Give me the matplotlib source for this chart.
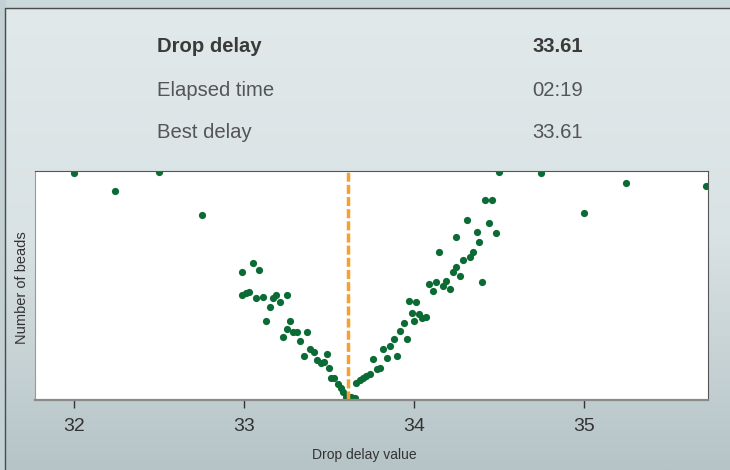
import numpy as np
import matplotlib.pyplot as plt
from matplotlib.colors import LinearSegmentedColormap
from matplotlib.patches import Rectangle

plt.rcParams['font.family'] = ['Liberation Sans', 'DejaVu Sans']

# drop delay scan (coarse 0.25 steps outside, fine steps near the minimum)
delay = [32.00, 32.24, 32.50, 32.75,
         32.99, 33.05, 33.09, 32.99, 33.01, 33.03, 33.07, 33.11, 33.15, 33.17,
         33.19, 33.21, 33.25, 33.13, 33.27, 33.25, 33.29, 33.31, 33.37, 33.23,
         33.33, 33.39, 33.41, 33.49, 33.35, 33.43, 33.45, 33.47, 33.50, 33.51,
         33.53, 33.55, 33.57, 33.58, 33.60, 33.63, 33.65,
         33.66, 33.68, 33.70, 33.72, 33.74, 33.76, 33.78, 33.80, 33.82, 33.84,
         33.86, 33.88, 33.90, 33.92, 33.94, 33.96, 33.97, 34.01, 33.99, 34.00,
         34.03, 34.05, 34.07, 34.09, 34.11, 34.13, 34.15, 34.17, 34.19, 34.21,
         34.23, 34.25, 34.25, 34.27, 34.29, 34.31, 34.33, 34.35, 34.37, 34.38,
         34.40, 34.42, 34.46, 34.44, 34.48, 34.50,
         34.75, 35.00, 35.25, 35.72]
beads = [227, 209, 228, 185,
         128, 137, 130, 105, 107, 108, 102, 103, 93, 102,
         105, 98, 105, 79, 79, 71, 68, 68, 68, 63,
         59, 51, 48, 46, 44, 40, 37, 38, 32, 22,
         22, 16, 12, 8, 3, 3, 2,
         17, 20, 22, 24, 26, 41, 31, 32, 51, 42,
         54, 61, 44, 69, 77, 61, 99, 98, 87, 79,
         86, 82, 83, 116, 109, 118, 148, 114, 119, 111,
         128, 133, 163, 124, 140, 180, 143, 148, 168, 158,
         118, 200, 200, 177, 167, 228,
         227, 187, 217, 214]

best_delay = 33.61
info_labels = ['Drop delay', 'Elapsed time', 'Best delay']
info_values = ['33.61', '02:19', '33.61']
x_ticks = [32, 33, 34, 35]

W, H = 730, 470
fig = plt.figure(figsize=(W / 100, H / 100), dpi=100)

# background gradient
bg = fig.add_axes([0, 0, 1, 1], zorder=-10)
cmap = LinearSegmentedColormap.from_list('bg', ['#e1e9eb', '#d9e2e4', '#b6c4c7'])
bg.imshow(np.linspace(0, 1, 256).reshape(-1, 1), aspect='auto', cmap=cmap,
          extent=[0, 1, 0, 1], origin='upper')
bg.add_patch(Rectangle((0, 1 - 7.5 / H), 1, 7.5 / H, color='#ccd9dc'))
bg.add_patch(Rectangle((0, 0), 4.5 / W, 1, color='#c3d1d5'))
bg.plot([4.5 / W, 4.5 / W, 1], [0, 1 - 7.5 / H, 1 - 7.5 / H], color='#4a4a4a', lw=1)
bg.set_xlim(0, 1)
bg.set_ylim(0, 1)
bg.axis('off')

# header table
rows_y = [47, 91, 133]
for i, (lab, val) in enumerate(zip(info_labels, info_values)):
    weight = 'bold' if i == 0 else 'normal'
    color = '#3a3a3a' if i == 0 else '#555555'
    fig.text(157 / W, 1 - rows_y[i] / H, lab, ha='left', va='center',
             fontsize=14.6, fontweight=weight, color=color)
    fig.text(583 / W, 1 - rows_y[i] / H, val, ha='right', va='center',
             fontsize=14.6, fontweight=weight, color=color)

# scatter plot
ax = fig.add_axes([35 / W, 1 - 400 / H, 673 / W, 229.3 / H])
ax.set_facecolor('white')
ax.plot(delay, beads, 'o', color='#0b6b34', ms=5.2, mew=0)
ax.axvline(best_delay, color='#f7a030', lw=2.5, ls=(0, (2.6, 0.9)))
ax.set_xlim(31.77, 35.73)
ax.set_ylim(0, 229.3)
ax.set_yticks([])
ax.set_xticks(x_ticks)
ax.tick_params(axis='x', direction='out', length=6, width=1, color='#333333',
               labelsize=14, labelcolor='#333333', pad=7)
for side in ['top', 'right']:
    ax.spines[side].set_color('#555555')
ax.spines['left'].set_color('#999999')
ax.spines['bottom'].set_color('#8a8a8a')
ax.spines['bottom'].set_linewidth(1.6)

fig.text(364 / W, 1 - 455 / H, 'Drop delay value', ha='center', va='center',
         fontsize=10, color='#333333')
fig.text(22 / W, 1 - 287.5 / H, 'Number of beads', ha='center', va='center',
         rotation=90, fontsize=10.5, color='#333333')

fig.savefig('out.png', dpi=100)
